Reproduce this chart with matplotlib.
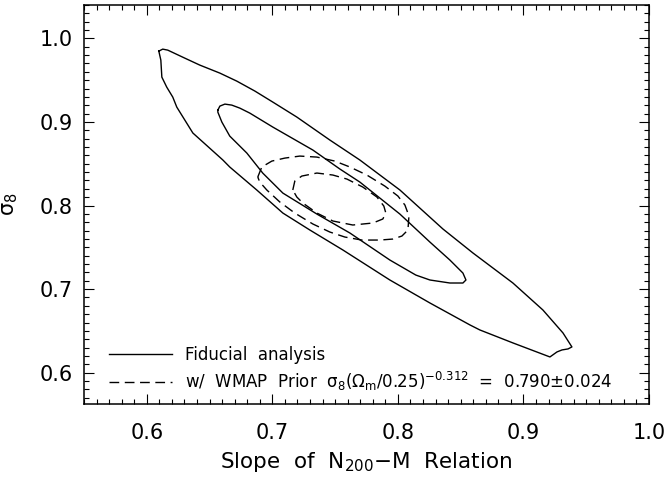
import numpy as np
import matplotlib
matplotlib.use("Agg")
import matplotlib.pyplot as plt
from matplotlib.ticker import MultipleLocator

plt.rcParams['font.family'] = ['DejaVu Sans']
plt.rcParams['mathtext.fontset'] = 'custom'
plt.rcParams['mathtext.rm'] = 'DejaVu Sans'
plt.rcParams['mathtext.it'] = 'DejaVu Sans:italic'
plt.rcParams['mathtext.bf'] = 'DejaVu Sans:bold'

# ---- contour data (slope, sigma8) ----
fid_outer_x = [0.6096, 0.6127, 0.6167, 0.6303, 0.6422, 0.6582, 0.6717, 0.6861, 0.7004, 0.7195,
               0.7458, 0.7697, 0.8016, 0.8359, 0.8598, 0.8916, 0.9155, 0.9315, 0.9386, 0.9355,
               0.9307, 0.9267, 0.9211, 0.8916, 0.8653, 0.8574, 0.8255, 0.7936, 0.7562, 0.7299,
               0.7084, 0.6876, 0.6661, 0.6606, 0.6367, 0.6239, 0.6207, 0.6159, 0.6120, 0.6112,
               0.6096]
fid_outer_y = [0.9848, 0.9872, 0.9860, 0.9764, 0.9681, 0.9585, 0.9489, 0.9370, 0.9238, 0.9059,
               0.8784, 0.8545, 0.8186, 0.7719, 0.7432, 0.7073, 0.6750, 0.6475, 0.6308, 0.6284,
               0.6272, 0.6248, 0.6188, 0.6356, 0.6511, 0.6571, 0.6834, 0.7109, 0.7468, 0.7707,
               0.7910, 0.8186, 0.8461, 0.8545, 0.8868, 0.9178, 0.9298, 0.9417, 0.9537, 0.9740,
               0.9848]

fid_inner_x = [0.6566, 0.6582, 0.6622, 0.6677, 0.6741, 0.6821, 0.7004, 0.7323, 0.7538, 0.7697,
               0.8016, 0.8255, 0.8414, 0.8518, 0.8542, 0.8518, 0.8414, 0.8255, 0.8143, 0.7936,
               0.7618, 0.7355, 0.7084, 0.6924, 0.6797, 0.6661, 0.6598, 0.6566, 0.6566]
fid_inner_y = [0.9142, 0.9190, 0.9214, 0.9202, 0.9166, 0.9106, 0.8939, 0.8664, 0.8437, 0.8281,
               0.7898, 0.7563, 0.7348, 0.7192, 0.7109, 0.7073, 0.7073, 0.7109, 0.7168, 0.7348,
               0.7671, 0.7898, 0.8149, 0.8388, 0.8628, 0.8831, 0.8999, 0.9118, 0.9142]

wmap_outer_x = [0.6884, 0.6916, 0.6996, 0.7100, 0.7219, 0.7355, 0.7498, 0.7618, 0.7753, 0.7896,
                0.8000, 0.8056, 0.8088, 0.8080, 0.8032, 0.7960, 0.7857, 0.7713, 0.7578, 0.7458,
                0.7323, 0.7179, 0.7060, 0.6956, 0.6900, 0.6884]
wmap_outer_y = [0.8341, 0.8461, 0.8532, 0.8568, 0.8592, 0.8580, 0.8532, 0.8461, 0.8365, 0.8233,
                0.8114, 0.8006, 0.7875, 0.7707, 0.7635, 0.7599, 0.7587, 0.7587, 0.7623, 0.7683,
                0.7779, 0.7910, 0.8042, 0.8186, 0.8281, 0.8341]

wmap_inner_x = [0.7163, 0.7179, 0.7235, 0.7355, 0.7482, 0.7594, 0.7721, 0.7833, 0.7888, 0.7904,
                0.7880, 0.7801, 0.7641, 0.7482, 0.7355, 0.7243, 0.7195, 0.7163]
wmap_inner_y = [0.8186, 0.8293, 0.8353, 0.8389, 0.8365, 0.8317, 0.8221, 0.8102, 0.7994, 0.7910,
                0.7839, 0.7791, 0.7767, 0.7815, 0.7910, 0.8030, 0.8102, 0.8186]

legend_labels = ["Fiducial  analysis",
                 r"w/  WMAP  Prior  σ$_8$(Ω$_\mathrm{m}$/0.25)$^{-0.312}$  =  0.790±0.024"]
x_ticks = [0.6, 0.7, 0.8, 0.9, 1.0]
y_ticks = [0.6, 0.7, 0.8, 0.9, 1.0]

fig = plt.figure(figsize=(6.66, 4.78), dpi=100)
ax = fig.add_axes([84/666, 1-404/478, (649-84)/666, (404-5)/478])

lw = 1.0
dash = (7, 4)
l1, = ax.plot(fid_outer_x, fid_outer_y, color='black', lw=lw)
ax.plot(fid_inner_x, fid_inner_y, color='black', lw=lw)
l2, = ax.plot(wmap_outer_x, wmap_outer_y, color='black', lw=lw, dashes=dash)
ax.plot(wmap_inner_x, wmap_inner_y, color='black', lw=lw, dashes=dash)

ax.set_xlim(0.55, 1.0)
ax.set_ylim(0.5625, 1.04)
ax.set_xticks(x_ticks)
ax.set_yticks(y_ticks)
ax.set_xticklabels([f"{v:.1f}" for v in x_ticks])
ax.set_yticklabels([f"{v:.1f}" for v in y_ticks])
ax.xaxis.set_minor_locator(MultipleLocator(0.01))
ax.yaxis.set_minor_locator(MultipleLocator(0.01))
ax.tick_params(which='both', direction='in', top=True, right=True, width=0.8, colors='black')
ax.tick_params(which='major', length=7.2, labelsize=15)
ax.tick_params(axis='x', which='major', pad=14)
ax.tick_params(axis='y', which='major', pad=8)
ax.tick_params(which='minor', length=3.6)
for s in ax.spines.values():
    s.set_linewidth(1.1)

ax.set_xlabel(r"Slope  of  N$_{200}$$-$M  Relation", fontsize=15.5, labelpad=5)
ax.set_ylabel(r"σ$_8$", fontsize=15, labelpad=14)

leg = ax.legend([l1, l2], legend_labels, loc='lower left', frameon=False, fontsize=12,
                handlelength=3.75, handletextpad=0.8, labelspacing=0.35,
                borderpad=0, borderaxespad=0, bbox_to_anchor=(25/565, 11/399))

fig.savefig("out.png", dpi=100)
